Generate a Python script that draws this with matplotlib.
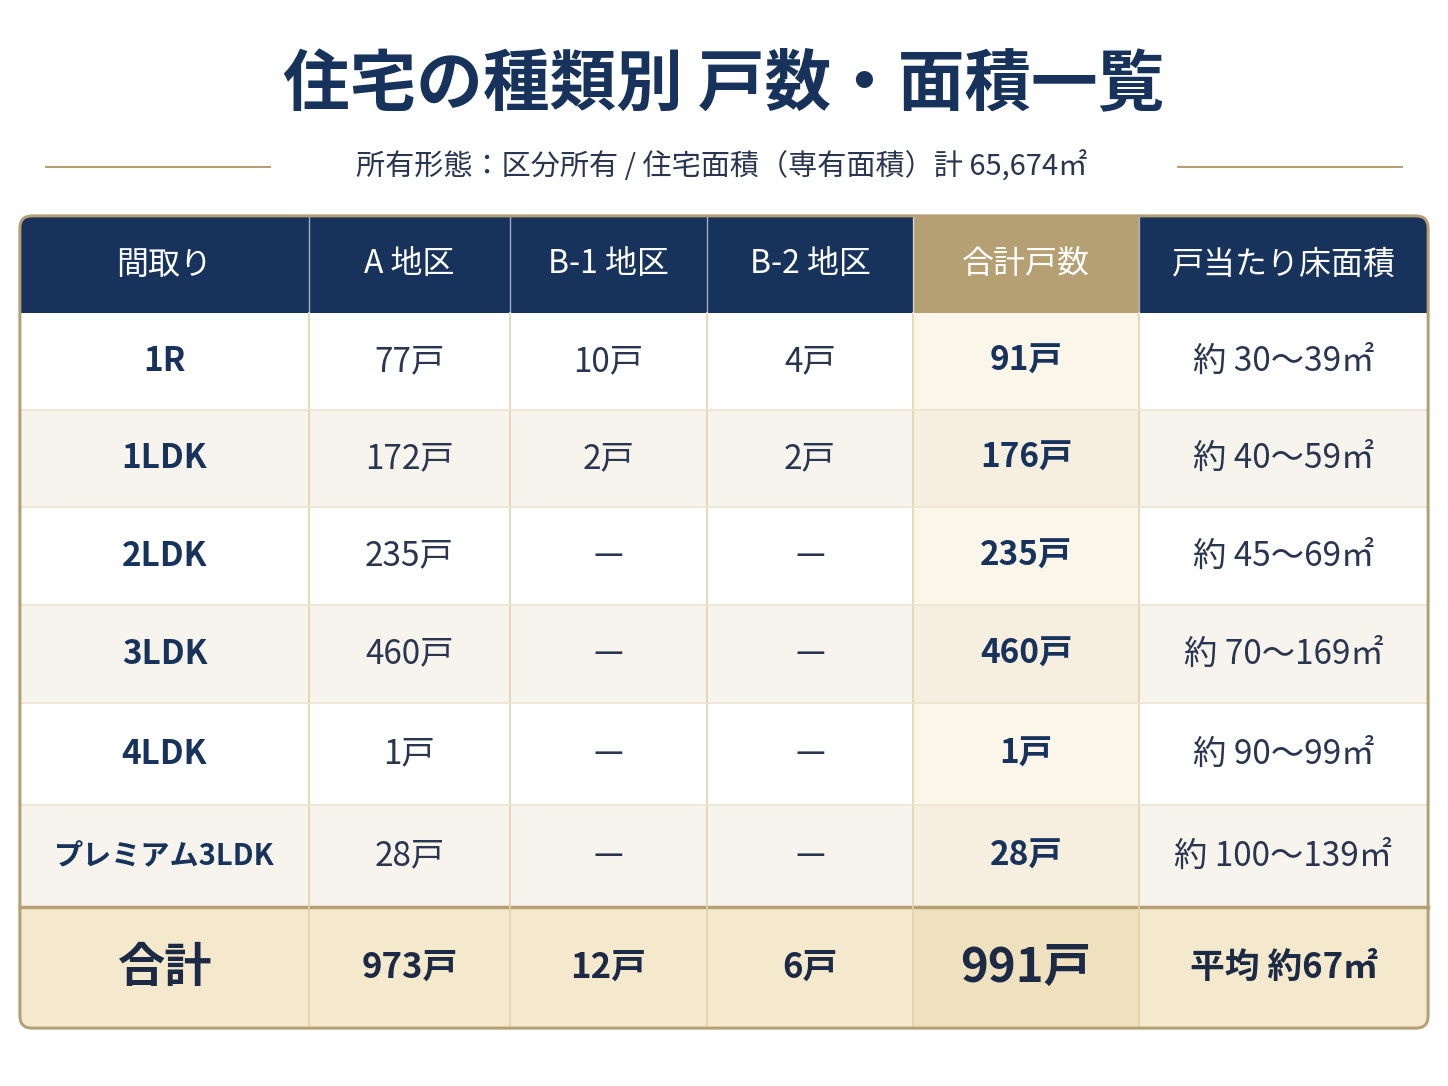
import matplotlib
matplotlib.use("Agg")
import matplotlib.pyplot as plt
from matplotlib.patches import Rectangle, FancyBboxPatch
import numpy as np

plt.rcParams['font.family'] = ['Noto Sans CJK JP', 'DejaVu Sans']

title = "住宅の種類別 戸数・面積一覧"
subtitle = "所有形態：区分所有 / 住宅面積（専有面積）計 65,674㎡"
headers = ["間取り", "A 地区", "B-1 地区", "B-2 地区", "合計戸数", "戸当たり床面積"]
layouts = ["1R", "1LDK", "2LDK", "3LDK", "4LDK", "プレミアム3LDK"]
area_a = ["77戸", "172戸", "235戸", "460戸", "1戸", "28戸"]
area_b1 = ["10戸", "2戸", "—", "—", "—", "—"]
area_b2 = ["4戸", "2戸", "—", "—", "—", "—"]
totals = ["91戸", "176戸", "235戸", "460戸", "1戸", "28戸"]
floor_area = ["約 30～39㎡", "約 40～59㎡", "約 45～69㎡", "約 70～169㎡", "約 90～99㎡", "約 100～139㎡"]
total_row = ["合計", "973戸", "12戸", "6戸", "991戸", "平均 約67㎡"]

W, H = 1448, 1086
fig = plt.figure(figsize=(W/100, H/100), dpi=100)
ax = fig.add_axes([0, 0, 1, 1])
ax.set_xlim(0, W); ax.set_ylim(H, 0); ax.axis('off')

navy = "#17335c"; gold = "#b4a073"; gline = "#e3d3a8"
ax.text(W/2, 85, title, ha='center', va='center', fontsize=48, fontweight='bold', color=navy)
ax.text(722, 167, subtitle, ha='center', va='center', fontsize=21, color="#2a3550")
ax.plot([46, 270], [167, 167], color=gold, lw=1.5)
ax.plot([1178, 1402], [167, 167], color=gold, lw=1.5)

cols = [20, 309, 510, 707, 913, 1139, 1428]
rows = [216, 313, 410, 507, 605, 703, 805, 907, 1028]

# outer rounded frame
ax.add_patch(FancyBboxPatch((cols[0], rows[0]), cols[-1]-cols[0], rows[-1]-rows[0],
             boxstyle="round,pad=0,rounding_size=12", fc="white", ec=gold, lw=2, zorder=1))
# header
for i in range(6):
    fc = gold if i == 4 else navy
    ax.add_patch(Rectangle((cols[i], rows[0]+ (6 if i in (0,5) else 0)), cols[i+1]-cols[i], rows[1]-rows[0]-(6 if i in (0,5) else 0), fc=fc, ec='none', zorder=2))
    ax.text((cols[i]+cols[i+1])/2, (rows[0]+rows[1])/2, headers[i], ha='center', va='center',
            fontsize=23, color='white', zorder=5)
ax.add_patch(FancyBboxPatch((cols[0], rows[0]), cols[-1]-cols[0], 30,
             boxstyle="round,pad=0,rounding_size=12", fc=navy, ec='none', zorder=2))
ax.add_patch(Rectangle((cols[4], rows[0]), cols[5]-cols[4], 30, fc=gold, ec='none', zorder=3))

# body rows
for r in range(6):
    y0, y1 = rows[r+1], rows[r+2]
    base = "#ffffff" if r % 2 == 0 else "#f7f4ee"
    for c in range(6):
        fc = ("#fbf6ea" if r % 2 == 0 else "#f6efe0") if c == 4 else base
        ax.add_patch(Rectangle((cols[c], y0), cols[c+1]-cols[c], y1-y0, fc=fc, ec='none', zorder=2))
    vals = [layouts[r], area_a[r], area_b1[r], area_b2[r], totals[r], floor_area[r]]
    yc = (y0+y1)/2
    for c, v in enumerate(vals):
        bold = c in (0, 4)
        fs = 24 if c != 0 else (24 if len(v) < 6 else 21)
        ax.text((cols[c]+cols[c+1])/2, yc, v, ha='center', va='center', fontsize=fs,
                fontweight='bold' if bold else 'normal', color=navy if bold else "#2a3550", zorder=5)

# total row
y0, y1 = rows[7], rows[8]
ax.add_patch(FancyBboxPatch((cols[0], y0), cols[-1]-cols[0], y1-y0,
             boxstyle="round,pad=0,rounding_size=12", fc="#f4e9cc", ec='none', zorder=2))
ax.add_patch(Rectangle((cols[0], y0), cols[-1]-cols[0], 30, fc="#f4e9cc", ec='none', zorder=2))
ax.add_patch(Rectangle((cols[4], y0), cols[5]-cols[4], y1-y0, fc="#efe1bd", ec='none', zorder=2))
ax.plot([cols[0], cols[-1]], [y0, y0], color=gold, lw=2.5, zorder=4)
for c, v in enumerate(total_row):
    fs = 34 if c in (0, 4) else 25
    ax.text((cols[c]+cols[c+1])/2, (y0+y1)/2, v, ha='center', va='center', fontsize=fs,
            fontweight='bold', color="#1c2a45", zorder=5)

# grid lines
for x in cols[1:-1]:
    ax.plot([x, x], [rows[1], rows[-1]], color=gline, lw=1.2, zorder=4)
    ax.plot([x, x], [rows[0], rows[1]], color="#ffffff", lw=1, alpha=0.6, zorder=4)
for y in rows[2:7]:
    ax.plot([cols[0], cols[-1]], [y, y], color="#ece4d2", lw=1.2, zorder=4)
ax.add_patch(FancyBboxPatch((cols[0], rows[0]), cols[-1]-cols[0], rows[-1]-rows[0],
             boxstyle="round,pad=0,rounding_size=12", fc="none", ec=gold, lw=2, zorder=6))

fig.savefig("out.png", dpi=100)
